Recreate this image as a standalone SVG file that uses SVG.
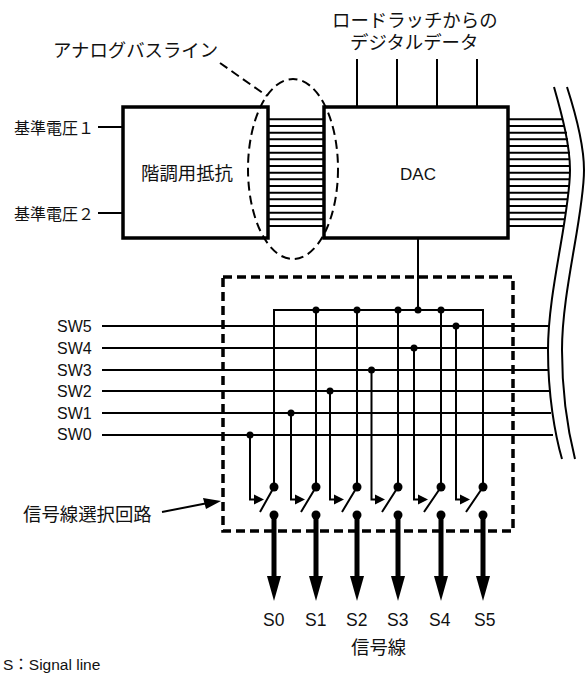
<svg xmlns="http://www.w3.org/2000/svg" width="586" height="675" viewBox="0 0 586 675">
<style>
text{font-family:"Liberation Sans","Noto Sans CJK JP",sans-serif;fill:#111}
.j{font-size:18.4px}.k{font-size:16px}.l{font-size:16px}.s{font-size:17.5px}
.w{fill:none;stroke:#000;stroke-width:2}
.b{fill:#fff;stroke:#000;stroke-width:3.5}
.d{fill:#000}
.t{stroke:#000;stroke-width:5;fill:none}
.h{fill:none;stroke:#000;stroke-width:2;stroke-dasharray:9 5}
</style>
<defs>
<g id="sw"><path class="w" d="M0 -178V0"/><circle class="d" cx="0" r="4.500"/><circle class="d" cy="28" r="4.500"/><path class="t" d="M0 28V90"/><path class="d" d="M-7 89H7L0 114Z"/></g>
<path id="ah" class="d" d="M-10 -5L0 0L-10 5Z"/>
</defs>
<g id="connectors">
<path class="w" d="M98 127H124M98 213H124M357 59V107M397 59V107M437 59V107M477 59V107M418 238V310"/>
<path class="w" d="M268 119.3H324M268 126H324M268 132.7H324M268 139.3H324M268 146H324M268 152.7H324M268 159.3H324M268 166H324M268 172.7H324M268 179.3H324M268 186H324M268 192.7H324M268 199.3H324M268 206H324M268 212.7H324M268 219.3H324M268 226H324"/>
<path class="w" d="M509 119.3H563M509 126H565M509 132.7H567M509 139.3H568M509 146H569M509 152.7H570M509 159.3H570M509 166H570M509 172.7H570M509 179.3H570M509 186H570M509 192.7H569M509 199.3H568M509 206H567M509 212.7H566M509 219.3H565M509 226H564"/>
<path class="w" d="M554 87C562 115 570 145 570 170C570 215 548 290 548 350C548 395 555 435 562 459"/>
<path class="w" d="M567 87C576 115 584 145 584 170C584 215 562 290 562 350C562 395 569 435 575 459"/>
<path class="w" d="M102 326H549M102 348H548M102 370H548M102 391H549M102 413H551M102 435H553M274 310H483"/>
<path class="w" d="M250 435V499.500H256M291 413V499.500H297M330 391V499.500H335M371.500 370V499.500H377M414 348V499.500H420M456 326V499.500H462"/>
<path class="w" d="M260 512L274 487M301 512L316 487M342 512L357 487M382 512L398 487M424 512L441 487M466 512L483 487"/>
<use href="#ah" x="264" y="499.500"/><use href="#ah" x="305" y="499.500"/><use href="#ah" x="344" y="499.500"/><use href="#ah" x="385" y="499.500"/><use href="#ah" x="428" y="499.500"/><use href="#ah" x="470" y="499.500"/>
<path class="h" d="M220 63L267 96"/>
<path class="w" d="M162 512L208 503"/><path class="d" d="M221 501L203 498L206 509Z"/>
<g class="d"><circle cx="316" cy="310" r="3.500"/><circle cx="357" cy="310" r="3.500"/><circle cx="398" cy="310" r="3.500"/><circle cx="418" cy="310" r="3.500"/><circle cx="441" cy="310" r="3.500"/><circle cx="250" cy="435" r="3.500"/><circle cx="291" cy="413" r="3.500"/><circle cx="330" cy="391" r="3.500"/><circle cx="371.500" cy="370" r="3.500"/><circle cx="414" cy="348" r="3.500"/><circle cx="456" cy="326" r="3.500"/></g>
</g>
<g id="r-box"><rect class="b" x="123" y="107" width="145" height="131"/><text class="j" x="187" y="180" text-anchor="middle">階調用抵抗</text></g>
<g id="dac"><rect class="b" x="324" y="107" width="184" height="131"/><text x="418" y="180" font-size="17" text-anchor="middle">DAC</text></g>
<ellipse id="bus-mark" class="h" cx="293" cy="169" rx="45" ry="90"/>
<g id="selector"><rect x="223" y="277" width="290" height="254" fill="none" stroke="#000" stroke-width="3.500" stroke-dasharray="9 5"/></g>
<g id="switches">
<use href="#sw" x="274" y="487"/><use href="#sw" x="316" y="487"/><use href="#sw" x="357" y="487"/><use href="#sw" x="398" y="487"/><use href="#sw" x="441" y="487"/><use href="#sw" x="483" y="487"/>
</g>
<g id="labels">
<text class="j" x="53" y="57">アナログバスライン</text>
<text class="j" x="332" y="27">ロードラッチからの</text>
<text class="j" x="350" y="49">デジタルデータ</text>
<text class="k" x="14" y="134">基準電圧１</text>
<text class="k" x="14" y="220">基準電圧２</text>
<text class="l" x="57" y="332">SW5</text><text class="l" x="57" y="354">SW4</text><text class="l" x="57" y="376">SW3</text><text class="l" x="57" y="397">SW2</text><text class="l" x="57" y="419">SW1</text><text class="l" x="57" y="440">SW0</text>
<text class="j" x="23" y="521">信号線選択回路</text>
<text class="s" x="263" y="626">S0</text><text class="s" x="305" y="626">S1</text><text class="s" x="346" y="626">S2</text><text class="s" x="387" y="626">S3</text><text class="s" x="429" y="626">S4</text><text class="s" x="474" y="626">S5</text>
<text class="j" x="351" y="654">信号線</text>
<text font-size="15.500" x="3" y="670">S：Signal line</text>
</g>
</svg>
